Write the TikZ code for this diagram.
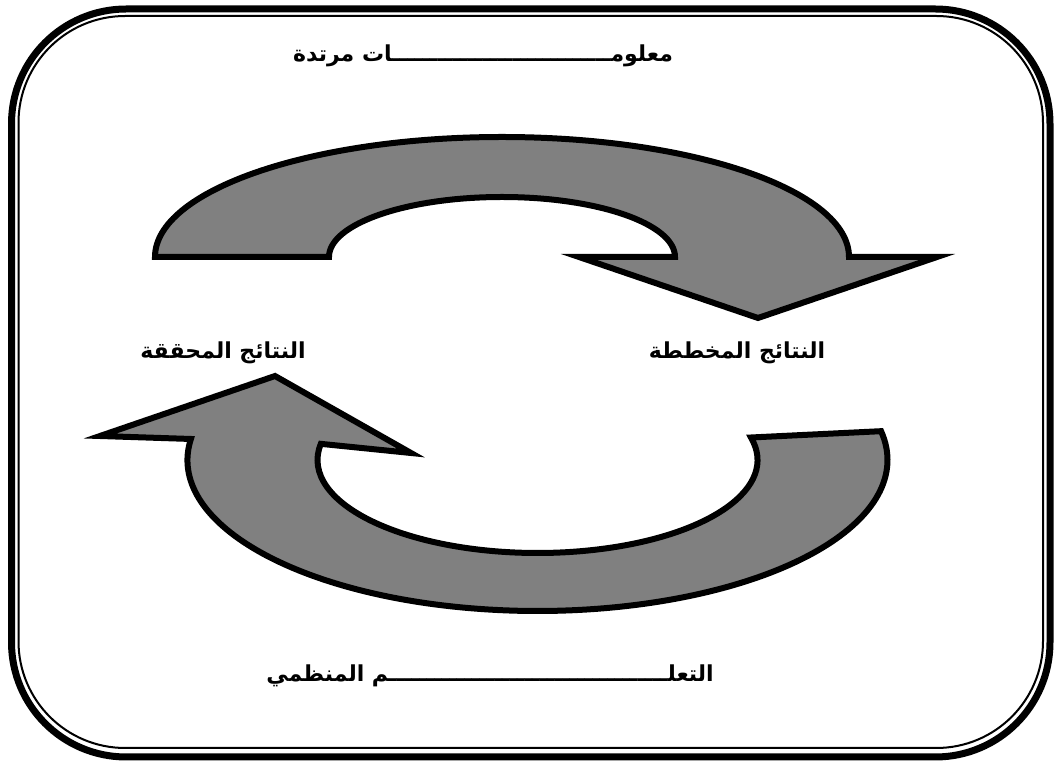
\documentclass[tikz,border=0pt]{standalone}
\usepackage{fontspec}
\usepackage{tikz}
\usetikzlibrary{calc}
\TeXXeTstate=1
\newfontfamily\arabicfont[Script=Arabic]{DejaVu Sans}
\definecolor{ArrowGray}{RGB}{128,128,128}
\newcommand{\artext}[1]{\beginR #1\endR}
\tikzset{
  bigarrow/.style={fill=ArrowGray,draw=black,line width=4.5pt,miter limit=10},
  arlabel/.style={font=\arabicfont\bfseries\fontsize{16.5}{20}\selectfont,inner sep=0pt}
}

\begin{document}
\begin{tikzpicture}[x=0.75pt,y=0.75pt]
            \useasboundingbox (0,0) rectangle (1054,764);
            % double frame
            \draw[line width=5.25pt,rounded corners=86pt] (11.5,7) rectangle (1050,755);
            \draw[line width=1.5pt,rounded corners=80pt] (18.5,16) rectangle (1043,748);
            \coordinate (upc) at (502,507);
            \coordinate (loc) at (537.5,304);
            % upper arrow
            \draw[bigarrow] ($(upc)+(-347,0)$) arc[start angle=180,end angle=0,x radius=347,y radius=120]
                -- (937,507) -- (758,446) -- (579,507) -- ($(upc)+(173,0)$)
                arc[start angle=0,end angle=180,x radius=173,y radius=60] -- cycle;
            % lower arrow
            \draw[bigarrow] ($(loc)+(11:350 and 151)$) -- ($(loc)+(14:220 and 93)$)
                arc[start angle=14,end angle=-190,x radius=220,y radius=93]
                -- (411,311) -- (275,388) -- (100,328) -- ($(loc)+(172:350 and 151)$)
                arc[start angle=172,end angle=371,x radius=350,y radius=151] -- cycle;
            \node[arlabel] (feedback) at (483,708) {\artext{معلومـــــــــــــــــــــــــــــات مرتدة}};
            \node[arlabel] (planned) at (737,411) {\artext{النتائج المخططة}};
            \node[arlabel] (achieved) at (223,411) {\artext{النتائج المحققة}};
            \node[arlabel] (orglearn) at (490,88) {\artext{التعلـــــــــــــــــــــــــــــــــــــم المنظمي}};
        \end{tikzpicture}
\end{document}
